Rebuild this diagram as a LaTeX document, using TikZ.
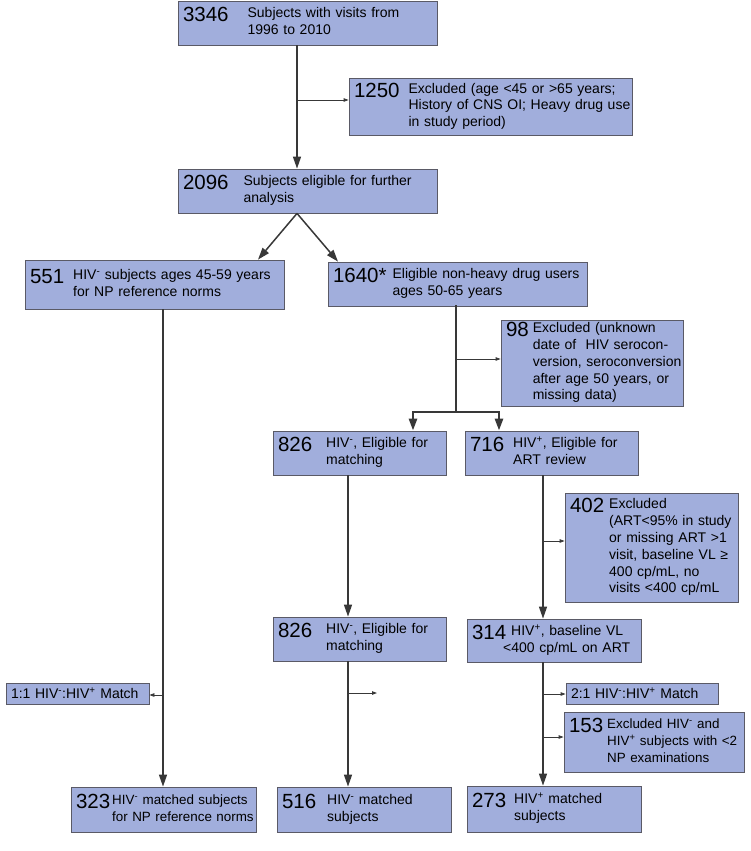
\documentclass[tikz,border=0pt]{standalone}
\usepackage{fontspec}
\setmainfont{Liberation Sans}
\usepackage{tikz}
\usetikzlibrary{arrows.meta}
\usepackage{xcolor}
\definecolor{boxfill}{HTML}{A1AEDC}
\definecolor{boxline}{HTML}{5A5A66}
\definecolor{flowline}{HTML}{383838}
% count on the left, text lines beside it
\newcommand{\cnt}[3][9pt]{\mbox{\raisebox{-4pt}{\fontsize{20.5}{20}\selectfont #2}\hspace{#1}\begin{tabular}[t]{@{}l@{}}#3\end{tabular}}}
\newcommand{\hivm}{HIV\textsuperscript{-}}
\newcommand{\hivp}{HIV\textsuperscript{+}}
\tikzset{%
	flowbox/.style={
		rectangle,
		draw=boxline,
		fill=boxfill,
		line width=0.8pt,
		inner xsep=5pt,
		inner ysep=0pt,
		align=left,
		font=\fontsize{14}{16.8}\selectfont
	},
	tightbox/.style={
		flowbox,
		font=\fontsize{13.4}{16.8}\selectfont
	},
	flow/.style={
		draw=flowline,
		line width=1.5pt,
		-{Triangle[length=12pt,width=8pt]}
	},
	trunkline/.style={
		draw=flowline,
		line width=2.6pt,
		line cap=rect
	},
	trunk/.style={
		trunkline,
		line cap=butt,
		-{Triangle[length=12pt,width=8pt]}
	},
	side/.style={
		draw=flowline,
		line width=0.8pt,
		-{Triangle[length=5pt,width=3.5pt]}
	},
}
\begin{document}
\begin{tikzpicture}[x=1pt,y=-1pt]
			\useasboundingbox (0,0) rectangle (750,851);
			
			% Draw the top boxes
			\node[flowbox, text width=249pt, minimum height=44pt] (n3346) at (307.5,23) {\cnt[19pt]{3346}{Subjects with visits from\\1996 to 2010}};
			\node[flowbox, text width=273pt, minimum height=57pt] (n1250) at (490.5,106.5) {\cnt{1250}{Excluded (age <45 or >65 years;\\History of CNS OI; Heavy drug use\\in study period)}};
			\node[flowbox, text width=249pt, minimum height=44pt] (n2096) at (307.5,191) {\cnt[15pt]{2096}{Subjects eligible for further\\analysis}};
			
			% Draw the two groups
			\node[flowbox, text width=249pt, minimum height=49pt] (n551) at (154.5,284.5) {\cnt{551}{\hivm{} subjects ages 45-59 years\\for NP reference norms}};
			\node[flowbox, text width=249pt, minimum height=44pt] (n1640) at (457.5,284) {\cnt[6pt]{1640*}{Eligible non-heavy drug users\\ages 50-65 years}};
			\node[flowbox, text width=172pt, minimum height=86pt] (n98) at (592,363) {\cnt[4pt]{98}{Excluded (unknown\\date of \ HIV serocon-\\version, seroconversion\\after age 50 years, or\\missing data)}};
			
			% Draw the HIV- and HIV+ columns
			\node[flowbox, text width=163pt, minimum height=44pt] (n826a) at (359.5,453) {\cnt[14pt]{826}{\hivm, Eligible for\\matching}};
			\node[flowbox, text width=163pt, minimum height=44pt] (n716) at (551.5,453) {\cnt{716}{\hivp, Eligible for\\ART review}};
			\node[flowbox, text width=163pt, minimum height=109pt] (n402) at (651.5,547.5) {\cnt[5pt]{402}{Excluded\\(ART<95\% in study\\or missing ART >1\\visit, baseline VL ≥\\400 cp/mL, no\\visits <400 cp/mL}};
			\node[flowbox, text width=163pt, minimum height=44pt] (n826b) at (359.5,639) {\cnt[14pt]{826}{\hivm, Eligible for\\matching}};
			\node[flowbox, text width=164pt, minimum height=43pt] (n314) at (554,640.5) {\cnt[5pt]{314}{\hivp, baseline VL\\\hspace*{-8pt}<400 cp/mL on ART}};
			
			% Draw the matching boxes
			\node[flowbox, text width=133pt, minimum height=21pt] (nm11) at (77.5,693.5) {1:1 \hivm{}:\hivp{} Match};
			\node[flowbox, text width=142pt, minimum height=21pt] (nm21) at (642,693.5) {2:1 \hivm:\hivp{} Match};
			\node[tightbox, text width=170pt, minimum height=60pt] (n153) at (654,742) {\cnt[4pt]{153}{Excluded \hivm{} and\\\hivp{} subjects with <2\\NP examinations}};
			
			% Draw the final boxes
			\node[tightbox, text width=175pt, minimum height=45pt] (n323) at (163.5,809.5) {\cnt[2pt]{323}{\hivm{} matched subjects\\for NP reference norms}};
			\node[flowbox, text width=164pt, minimum height=45pt] (n516) at (364,809.5) {\cnt[11pt]{516}{\hivm{} matched\\subjects}};
			\node[flowbox, text width=164pt, minimum height=46pt] (n273) at (554,809) {\cnt[8pt]{273}{\hivp{} matched\\subjects}};
			
			% Arrows from the top box
			\coordinate (t1) at (297,0);
			\draw[flow] (n3346.south -| t1) -- (n2096.north -| t1);
			\coordinate (s1) at (297,100);
			\draw[side] (s1) -- (s1 -| n1250.west);
			
			% Split into the two groups
			\coordinate (e1) at (258,0);
			\coordinate (e2) at (338,0);
			\draw[flow] (n2096.south -| t1) -- (n551.north -| e1);
			\draw[flow] (n2096.south -| t1) -- (n1640.north -| e2);
			
			% Left column
			\coordinate (t3) at (163,0);
			\draw[flow] (n551.south -| t3) -- (n323.north -| t3);
			\coordinate (s2) at (163,695);
			\draw[side] (s2) -- (s2 -| nm11.east);
			
			% Thick trunk under 1640
			\coordinate (t4) at (456,412);
			\coordinate (e3) at (413,0);
			\coordinate (e4) at (499,0);
			\draw[trunkline] (n1640.south -| t4) -- (t4);
			\draw[trunk] (t4) -| (n826a.north -| e3);
			\draw[trunk] (t4) -| (n716.north -| e4);
			\coordinate (s3) at (456,359);
			\draw[side] (s3) -- (s3 -| n98.west);
			
			% HIV- column
			\coordinate (t5) at (348,0);
			\draw[flow] (n826a.south -| t5) -- (n826b.north -| t5);
			\draw[flow] (n826b.south -| t5) -- (n516.north -| t5);
			\coordinate (s4) at (348,693);
			\coordinate (s4e) at (377,693);
			\draw[side] (s4) -- (s4e);
			
			% HIV+ column
			\coordinate (t6) at (543,0);
			\draw[flow] (n716.south -| t6) -- (n314.north -| t6);
			\coordinate (s5) at (543,541);
			\draw[side] (s5) -- (s5 -| n402.west);
			\draw[flow] (n314.south -| t6) -- (n273.north -| t6);
			\coordinate (s6) at (543,694);
			\draw[side] (s6) -- (s6 -| nm21.west);
			\coordinate (s7) at (543,737);
			\draw[side] (s7) -- (s7 -| n153.west);
			
		\end{tikzpicture}
\end{document}
